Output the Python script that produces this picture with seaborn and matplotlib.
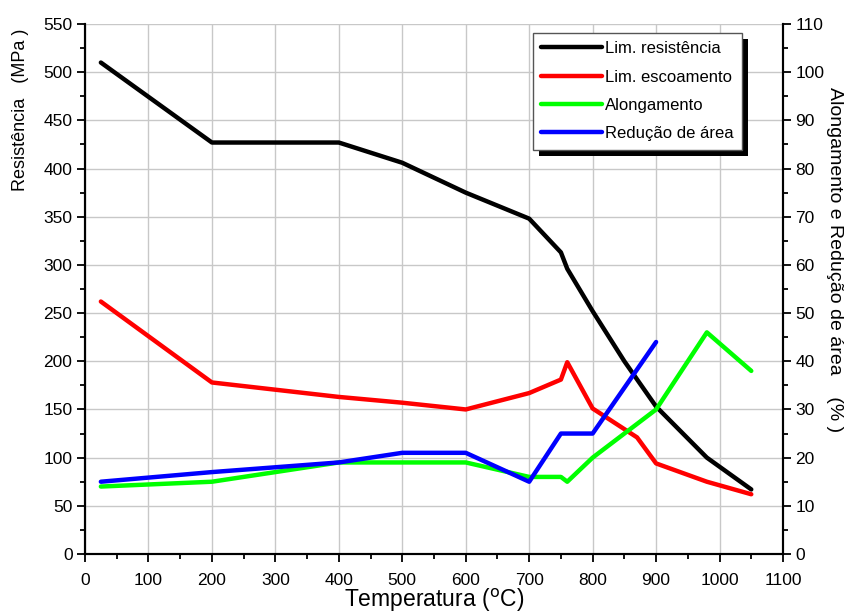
import matplotlib
matplotlib.use("Agg")
import matplotlib.pyplot as plt
import seaborn as sns
from matplotlib.patches import Rectangle
from matplotlib.transforms import IdentityTransform
from matplotlib.ticker import MultipleLocator

# Data
temp_res = [25, 200, 400, 500, 600, 700, 750, 760, 800, 850, 900, 980, 1050]
lim_resistencia = [510, 427, 427, 406, 375, 348, 313, 296, 252, 200, 153, 100, 67]
temp_esc = [25, 200, 400, 500, 600, 700, 750, 760, 800, 870, 900, 980, 1050]
lim_escoamento = [262, 178, 163, 157, 150, 167, 181, 199, 151, 121, 94, 75, 62]
temp_al = [25, 200, 400, 500, 600, 700, 750, 760, 800, 900, 980, 1050]
alongamento = [14, 15, 19, 19, 19, 16, 16, 15, 20, 30, 46, 38]
temp_red = [25, 200, 400, 500, 600, 700, 750, 800, 900]
reducao_area = [15, 17, 19, 21, 21, 15, 25, 25, 44]

sns.set_theme(style="white")
plt.rcParams['font.family'] = ['Liberation Sans', 'DejaVu Sans']
plt.rcParams['text.color'] = 'black'
plt.rcParams['axes.labelcolor'] = 'black'
plt.rcParams['xtick.color'] = 'black'
plt.rcParams['ytick.color'] = 'black'

fig = plt.figure(figsize=(8.56, 6.15), dpi=100)
ax = fig.add_axes([85/856, 1-554/615, (783-85)/856, (554-24)/615])
ax2 = ax.twinx()

lw = 3.2
sns.lineplot(x=temp_res, y=lim_resistencia, ax=ax, color='black', lw=lw, label='Lim. resistência', legend=False, solid_capstyle='round')
sns.lineplot(x=temp_esc, y=lim_escoamento, ax=ax, color='#ff0000', lw=lw, label='Lim. escoamento', legend=False, solid_capstyle='round')
sns.lineplot(x=temp_al, y=alongamento, ax=ax2, color='#00ff00', lw=lw, label='Alongamento', legend=False, solid_capstyle='round')
sns.lineplot(x=temp_red, y=reducao_area, ax=ax2, color='#0000ff', lw=lw, label='Redução de área', legend=False, solid_capstyle='round')

ax.set_xlim(0, 1100)
ax.set_ylim(0, 550)
ax2.set_ylim(0, 110)

ax.xaxis.set_major_locator(MultipleLocator(100))
ax.xaxis.set_minor_locator(MultipleLocator(50))
ax.yaxis.set_major_locator(MultipleLocator(50))
ax.yaxis.set_minor_locator(MultipleLocator(25))
ax2.yaxis.set_major_locator(MultipleLocator(10))
ax2.yaxis.set_minor_locator(MultipleLocator(5))

for a in (ax, ax2):
    a.spines['top'].set_visible(False)
    for s in ('left', 'right', 'bottom'):
        a.spines[s].set_color('black')
        a.spines[s].set_linewidth(1.5)

ax.grid(True, which='major', color='#c8c8c8', lw=1.0)
ax2.grid(False)
ax.set_axisbelow(True)

ax.tick_params(axis='both', which='major', direction='out', length=6, width=1.3, labelsize=12.5, bottom=True, left=True)
ax.tick_params(axis='both', which='minor', direction='out', length=3.5, width=1.3, bottom=True, left=True)
ax2.tick_params(axis='y', which='major', direction='out', length=6, width=1.3, labelsize=12.5, right=True)
ax2.tick_params(axis='y', which='minor', direction='out', length=3.5, width=1.3, right=True)
ax.tick_params(axis='x', pad=8)
ax.tick_params(axis='y', pad=3)
ax2.tick_params(axis='y', pad=3)

ax.set_xlabel('Temperatura ($^{\\mathrm{o}}$C)', fontsize=16.5, va='baseline')
ax.xaxis.set_label_coords(0.5, (554-607)/530)
ax.set_ylabel('Resistência   (MPa )', fontsize=13, va='center', ha='center')
ax.yaxis.set_label_coords((21-85)/698, (554-110)/530)
ax2.set_ylabel('Alongamento e Redução de área    (% )', fontsize=14, rotation=270, va='center', ha='center')
ax2.yaxis.set_label_coords((835-85)/698, (554-260)/530)

h1, l1 = ax.get_legend_handles_labels()
h2, l2 = ax2.get_legend_handles_labels()
leg = ax2.legend(h1 + h2, l1 + l2, loc='upper right', bbox_to_anchor=(742/856, 1-33/615),
                 bbox_transform=fig.transFigure, fontsize=12, frameon=True, fancybox=False,
                 handlelength=3.65, handletextpad=0.2, borderpad=0.5, labelspacing=0.8,
                 borderaxespad=0)
leg.get_frame().set_edgecolor('#555555')
leg.get_frame().set_linewidth(1.0)
leg.get_frame().set_alpha(1)
leg.set_zorder(10)

fig.canvas.draw()
bb = leg.get_window_extent()
shadow = Rectangle((bb.x0 + 6, bb.y0 - 6), bb.width, bb.height, transform=IdentityTransform(),
                   facecolor='black', edgecolor='none', zorder=9, clip_on=False)
ax2.add_artist(shadow)

fig.savefig('out.png', dpi=100)
